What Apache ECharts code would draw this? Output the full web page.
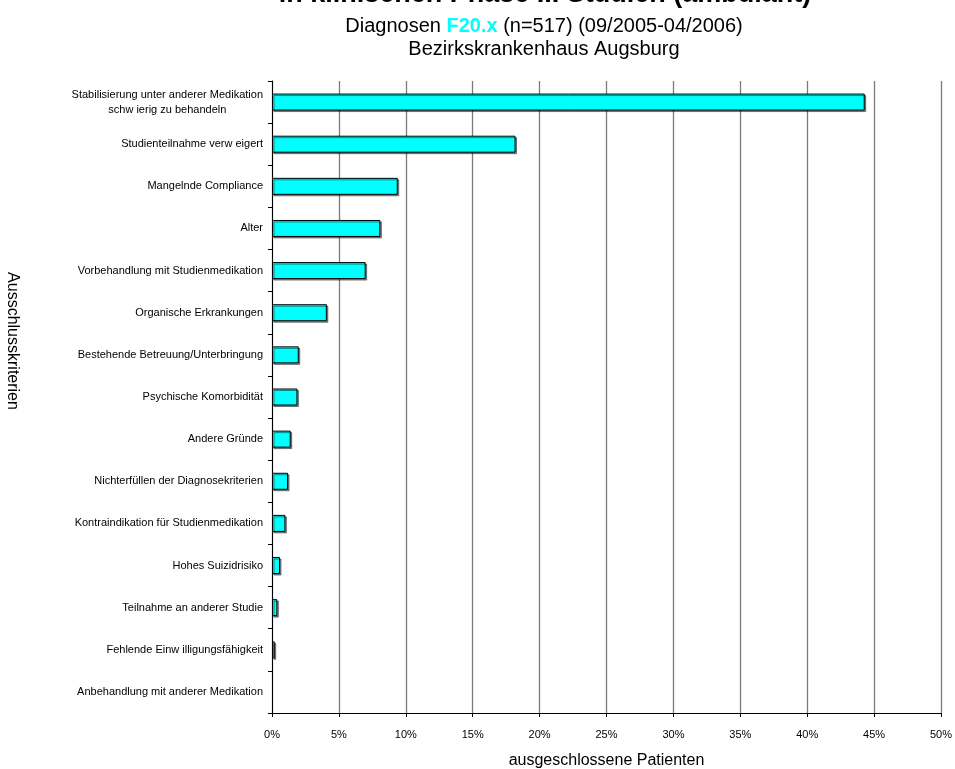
<!DOCTYPE html>
<html>
<head>
<meta charset="utf-8">
<script src="https://cdn.jsdelivr.net/npm/echarts@6/dist/echarts.min.js"></script>
<style>
  html, body { margin: 0; padding: 0; background: #fff; }
  #chart { width: 955px; height: 769px; }
</style>
</head>
<body>
<div id="chart"></div>
<script>
// Exclusion criteria, top to bottom
var categories = [
  'Stabilisierung unter anderer Medikation\nschw ierig zu behandeln',
  'Studienteilnahme verw eigert',
  'Mangelnde Compliance',
  'Alter',
  'Vorbehandlung mit Studienmedikation',
  'Organische Erkrankungen',
  'Bestehende Betreuung/Unterbringung',
  'Psychische Komorbidität',
  'Andere Gründe',
  'Nichterfüllen der Diagnosekriterien',
  'Kontraindikation für Studienmedikation',
  'Hohes Suizidrisiko',
  'Teilnahme an anderer Studie',
  'Fehlende Einw illigungsfähigkeit',
  'Anbehandlung mit anderer Medikation'
];

// Share of excluded patients, percent
var percentages = [44.3, 18.2, 9.4, 8.1, 7.0, 4.1, 2.0, 1.9, 1.4, 1.2, 1.0, 0.6, 0.4, 0.2, 0];

var xTicks = { min: 0, max: 50, interval: 5 };

var titleLine = 'in klinischen Phase III Studien (ambulant)';
var subtitleParts = ['Diagnosen ', 'F20.x', ' (n=517) (09/2005-04/2006)'];
var clinicLine = 'Bezirkskrankenhaus Augsburg';
var xName = 'ausgeschlossene Patienten';
var yName = 'Ausschlusskriterien';

var FONT = 'Arial, "Liberation Sans", sans-serif';

var barStyle = {
  color: '#00FFFF',
  borderColor: '#000',
  borderWidth: 1,
  shadowColor: 'rgba(0,0,0,0.45)',
  shadowOffsetX: 1.5,
  shadowOffsetY: 1.5,
  shadowBlur: 0
};

// a zero share gets no outline, so nothing is drawn for it
var barData = percentages.map(function (v) {
  return v === 0 ? { value: v, itemStyle: { borderWidth: 0, shadowColor: 'transparent' } } : v;
});

var chart = echarts.init(document.getElementById('chart'), null, { renderer: 'canvas' });

chart.setOption({
  backgroundColor: '#ffffff',
  animation: false,
  title: {
    text: '{a|' + subtitleParts[0] + '}{b|' + subtitleParts[1] + '}{a|' + subtitleParts[2] + '}\n{a|' + clinicLine + '}',
    left: 539,
    textAlign: 'center',
    top: 10,
    textStyle: {
      fontFamily: FONT,
      fontWeight: 'normal',
      rich: {
        a: { fontFamily: FONT, fontSize: 20, fontWeight: 'normal', color: '#000', lineHeight: 23 },
        b: { fontFamily: FONT, fontSize: 20, color: '#00FFFF', fontWeight: 'bold', lineHeight: 23 }
      }
    }
  },
  graphic: [
    {
      type: 'text',
      x: 545, y: 8,
      style: {
        text: titleLine,
        font: 'bold 27px ' + FONT,
        fill: '#000',
        align: 'center',
        verticalAlign: 'bottom'
      }
    },
    {
      type: 'text',
      x: 12, y: 341,
      rotation: -Math.PI / 2,
      style: {
        text: yName,
        font: '16px ' + FONT,
        fill: '#000',
        align: 'center',
        verticalAlign: 'middle'
      }
    }
  ],
  grid: { left: 272, right: 14, top: 81, bottom: 56, containLabel: false, outerBoundsMode: 'none' },
  xAxis: {
    type: 'value',
    min: xTicks.min,
    max: xTicks.max,
    interval: xTicks.interval,
    name: xName,
    nameLocation: 'middle',
    nameGap: 40,
    nameTextStyle: { fontFamily: FONT, fontSize: 16, color: '#000' },
    axisLine: { show: true, lineStyle: { color: '#000', width: 1 } },
    axisTick: { show: true, length: 4, lineStyle: { color: '#000' } },
    axisLabel: {
      margin: 16,
      fontFamily: FONT, fontSize: 11, color: '#000',
      formatter: function (v) { return v + '%'; }
    },
    splitLine: { show: true, lineStyle: { color: '#7a7a7a', width: 1.3 } }
  },
  yAxis: {
    type: 'category',
    data: categories,
    inverse: true,
    axisLine: { show: true, lineStyle: { color: '#000', width: 1 } },
    axisTick: { show: true, length: 4, alignWithLabel: false, lineStyle: { color: '#000' } },
    axisLabel: {
      margin: 9,
      fontFamily: FONT, fontSize: 11, color: '#000',
      lineHeight: 15,
      formatter: function (v) {
        var lines = v.split('\n');
        return lines.map(function (l) { return '{c|' + l + '}'; }).join('\n');
      },
      rich: { c: { fontFamily: FONT, fontSize: 11, color: '#000', align: 'center', lineHeight: 15 } }
    },
    splitLine: { show: false }
  },
  series: [{
    type: 'bar',
    data: barData,
    barWidth: 17,
    itemStyle: barStyle
  }]
});
</script>
</body>
</html>
